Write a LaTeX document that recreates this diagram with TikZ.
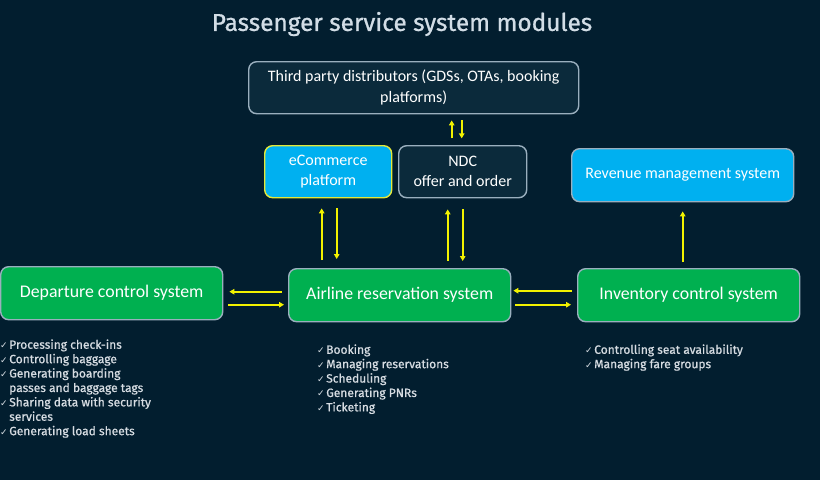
\documentclass[tikz,border=0pt]{standalone}
\usepackage{fontspec}
\setmainfont{Carlito}
\newfontfamily\titlefont[FakeBold=0.8]{Fira Sans}
\newfontfamily\listfont[FakeBold=0.8]{Fira Sans}
\newfontfamily\symfont{DejaVu Sans}
\usetikzlibrary{arrows.meta,calc}
\definecolor{bg}{HTML}{021E2F}
\definecolor{darkbox}{HTML}{0B2A3B}
\definecolor{greyedge}{HTML}{9AAFBE}
\definecolor{cyanbox}{HTML}{00B0F0}
\definecolor{greenbox}{HTML}{00B050}
\definecolor{arrowyel}{HTML}{F2F200}
\definecolor{yedge}{HTML}{E4E83A}
\definecolor{titlecol}{HTML}{D2DDE6}
\definecolor{listcol}{HTML}{D6DCE2}
\newcommand{\ck}{{\symfont\fontsize{9}{10}\selectfont ✓}}
\tikzset{
  box/.style={rounded corners=8pt, line width=1.4pt, draw=greyedge, text=white, align=center, inner sep=0pt, anchor=north west},
  darkb/.style={box, fill=darkbox},
  cyanb/.style={box, fill=cyanbox},
  greenb/.style={box, fill=greenbox},
  arr/.style={color=arrowyel, line width=1.6pt, -{Triangle[length=5pt,width=5.5pt]}},
  lst/.style={text=listcol, anchor=north west, inner sep=0pt, align=left, font=\listfont\fontsize{12}{14.4}\selectfont}
}
\begin{document}
\begin{tikzpicture}[x=1pt,y=-1pt]
\fill[bg] (0,0) rectangle (820,480);
\useasboundingbox (0,0) rectangle (820,480);
\node[text=titlecol, font=\titlefont\fontsize{24.4}{28}\selectfont] (title) at (402,24) {Passenger service system modules};
\node[darkb, minimum width=330pt, minimum height=52pt, font=\fontsize{16}{21}\selectfont] (tpd) at (248,61) {Third party distributors (GDSs, OTAs, booking\\platforms)};
\node[cyanb, draw=yedge, minimum width=127pt, minimum height=52pt, font=\fontsize{16}{20}\selectfont] (ecom) at (264,145) {eCommerce\\platform};
\node[darkb, minimum width=128pt, minimum height=52pt, font=\fontsize{16}{20}\selectfont] (ndc) at (398,145) {NDC\\offer and order};
\node[cyanb, minimum width=222pt, minimum height=53pt, font=\fontsize{16}{19}\selectfont] (rms) at (571,148) {Revenue management system};
\node[greenb, minimum width=222pt, minimum height=53pt, font=\fontsize{17.8}{21}\selectfont] (dcs) at (0,266) {Departure control system};
\node[greenb, minimum width=222pt, minimum height=53pt, font=\fontsize{17.8}{21}\selectfont] (ars) at (288,268) {Airline reservation system};
\node[greenb, minimum width=222pt, minimum height=53pt, font=\fontsize{17.8}{21}\selectfont] (ics) at (577,268) {Inventory control system};
% TPD <-> NDC
\draw[arr] ($(tpd.south)+(38,24)$) -- ($(tpd.south)+(38,6)$);
\draw[arr] ($(tpd.south)+(48,6)$) -- ($(tpd.south)+(48,24)$);
% eCommerce <-> ARS
\draw[arr] ($(ars.north)+(-78,-8)$) -- ($(ars.north |- ecom.south)+(-78,10)$);
\draw[arr] ($(ars.north |- ecom.south)+(-63,10)$) -- ($(ars.north)+(-63,-9)$);
% NDC <-> ARS
\draw[arr] ($(ars.north)+(48,-7)$) -- ($(ars.north |- ndc.south)+(48,11)$);
\draw[arr] ($(ars.north |- ndc.south)+(63,11)$) -- ($(ars.north)+(63,-7)$);
% ICS -> RMS
\draw[arr] ($(ics.north)+(-6,-6)$) -- ($(ics.north |- rms.south)+(-6,9)$);
% ARS <-> DCS
\draw[arr] ($(ars.west)+(-6,-3.5)$) -- ($(dcs.east |- ars.west)+(6,-3.5)$);
\draw[arr] ($(dcs.east |- ars.west)+(5,9.5)$) -- ($(ars.west)+(-4,9.5)$);
% ARS <-> ICS
\draw[arr] ($(ics.west)+(-5,-4.5)$) -- ($(ars.east)+(2,-4.5)$);
\draw[arr] ($(ars.east)+(4,9.5)$) -- ($(ics.west)+(-6,9.5)$);
% lists
\node[lst] (dcsl) at (0,338.5) {%
\begin{tabular}{@{}l@{\hspace{1.5pt}}l@{}}
\ck & Processing check-ins\\
\ck & Controlling baggage\\
\ck & Generating boarding\\
    & passes and baggage tags\\
\ck & Sharing data with security\\
    & services\\
\ck & Generating load sheets
\end{tabular}};
\node[lst] (arsl) at (317,343.5) {%
\begin{tabular}{@{}l@{\hspace{1.5pt}}l@{}}
\ck & Booking\\
\ck & Managing reservations\\
\ck & Scheduling\\
\ck & Generating PNRs\\
\ck & Ticketing
\end{tabular}};
\node[lst] (icsl) at (585,343.5) {%
\begin{tabular}{@{}l@{\hspace{1.5pt}}l@{}}
\ck & Controlling seat availability\\
\ck & Managing fare groups
\end{tabular}};
\end{tikzpicture}
\end{document}
